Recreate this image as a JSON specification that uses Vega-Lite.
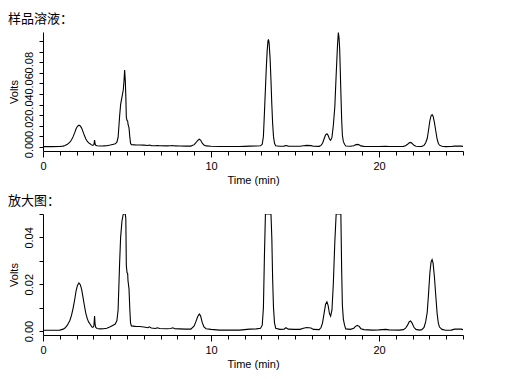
{
  "$schema": "https://vega.github.io/schema/vega-lite/v6.json",
  "background": "white",
  "padding": {"left": 8, "top": 13, "right": 5, "bottom": 5},
  "spacing": 9,
  "config": {
    "view": {"stroke": null},
    "font": "Liberation Sans",
    "axis": {
      "grid": false,
      "domainColor": "black",
      "tickColor": "black",
      "labelColor": "black",
      "titleColor": "black",
      "labelFontSize": 11,
      "titleFontSize": 11,
      "titleFontWeight": "normal",
      "labelFont": "Liberation Sans",
      "titleFont": "Liberation Sans",
      "domainWidth": 1,
      "tickWidth": 1
    },
    "title": {
      "font": "Noto Sans CJK SC",
      "fontSize": 13,
      "fontWeight": "normal",
      "color": "black",
      "anchor": "start",
      "offset": 6
    }
  },
  "datasets": {
    "chrom": [
      {"t": 0, "v": 0.0003}, {"t": 0.5, "v": 0.0003}, {"t": 1.0, "v": 0.0004}, {"t": 1.2, "v": 0.0008},
      {"t": 1.31, "v": 0.0013}, {"t": 1.45, "v": 0.0025}, {"t": 1.6, "v": 0.0045}, {"t": 1.7, "v": 0.0068},
      {"t": 1.8, "v": 0.0100}, {"t": 1.9, "v": 0.0140}, {"t": 1.97, "v": 0.0172}, {"t": 2.05, "v": 0.0195},
      {"t": 2.14, "v": 0.0205}, {"t": 2.22, "v": 0.0198}, {"t": 2.30, "v": 0.0178}, {"t": 2.38, "v": 0.0145},
      {"t": 2.46, "v": 0.0110}, {"t": 2.55, "v": 0.0075}, {"t": 2.64, "v": 0.0052}, {"t": 2.72, "v": 0.0038},
      {"t": 2.80, "v": 0.0030}, {"t": 2.87, "v": 0.0022}, {"t": 2.93, "v": 0.0016}, {"t": 2.98, "v": 0.0016},
      {"t": 3.03, "v": 0.0022}, {"t": 3.07, "v": 0.0064}, {"t": 3.10, "v": 0.0030}, {"t": 3.14, "v": 0.0015},
      {"t": 3.22, "v": 0.0011}, {"t": 3.4, "v": 0.0009}, {"t": 3.6, "v": 0.0010}, {"t": 3.8, "v": 0.0012},
      {"t": 4.0, "v": 0.0018}, {"t": 4.15, "v": 0.0024}, {"t": 4.3, "v": 0.0030}, {"t": 4.4, "v": 0.0045},
      {"t": 4.47, "v": 0.0090}, {"t": 4.52, "v": 0.0200}, {"t": 4.56, "v": 0.0290}, {"t": 4.62, "v": 0.0400},
      {"t": 4.70, "v": 0.0470}, {"t": 4.78, "v": 0.0540}, {"t": 4.82, "v": 0.0620}, {"t": 4.86, "v": 0.0726},
      {"t": 4.90, "v": 0.0620}, {"t": 4.93, "v": 0.0480}, {"t": 4.96, "v": 0.0280}, {"t": 5.00, "v": 0.0250},
      {"t": 5.04, "v": 0.0245}, {"t": 5.06, "v": 0.0215}, {"t": 5.12, "v": 0.0180}, {"t": 5.17, "v": 0.0090},
      {"t": 5.21, "v": 0.0035}, {"t": 5.26, "v": 0.0022}, {"t": 5.5, "v": 0.0020}, {"t": 5.76, "v": 0.0019},
      {"t": 6.0, "v": 0.0017}, {"t": 6.25, "v": 0.0014}, {"t": 6.33, "v": 0.0018}, {"t": 6.45, "v": 0.0013},
      {"t": 6.7, "v": 0.0011}, {"t": 6.8, "v": 0.0014}, {"t": 6.95, "v": 0.0011}, {"t": 7.34, "v": 0.0010},
      {"t": 7.6, "v": 0.0011}, {"t": 7.73, "v": 0.0014}, {"t": 7.85, "v": 0.0010}, {"t": 8.13, "v": 0.0009},
      {"t": 8.5, "v": 0.0008}, {"t": 8.8, "v": 0.0008}, {"t": 9.0, "v": 0.0022}, {"t": 9.1, "v": 0.0040},
      {"t": 9.2, "v": 0.0060}, {"t": 9.3, "v": 0.0073}, {"t": 9.38, "v": 0.0065}, {"t": 9.48, "v": 0.0036},
      {"t": 9.58, "v": 0.0018}, {"t": 9.71, "v": 0.0010}, {"t": 10.0, "v": 0.0007}, {"t": 10.5, "v": 0.0004},
      {"t": 11.0, "v": 0.0004}, {"t": 11.7, "v": 0.0004}, {"t": 12.0, "v": 0.0006}, {"t": 12.3, "v": 0.0008},
      {"t": 12.7, "v": 0.0009}, {"t": 12.95, "v": 0.0012}, {"t": 13.05, "v": 0.0025}, {"t": 13.12, "v": 0.0100},
      {"t": 13.18, "v": 0.0320}, {"t": 13.24, "v": 0.0550}, {"t": 13.29, "v": 0.0740}, {"t": 13.34, "v": 0.0900},
      {"t": 13.39, "v": 0.1000}, {"t": 13.42, "v": 0.1016}, {"t": 13.46, "v": 0.0980}, {"t": 13.52, "v": 0.0830},
      {"t": 13.57, "v": 0.0630}, {"t": 13.62, "v": 0.0400}, {"t": 13.67, "v": 0.0220}, {"t": 13.72, "v": 0.0100},
      {"t": 13.78, "v": 0.0035}, {"t": 13.85, "v": 0.0012}, {"t": 14.1, "v": 0.0007}, {"t": 14.35, "v": 0.0008},
      {"t": 14.46, "v": 0.0014}, {"t": 14.6, "v": 0.0008}, {"t": 14.95, "v": 0.0007}, {"t": 15.3, "v": 0.0007},
      {"t": 15.5, "v": 0.0012}, {"t": 15.7, "v": 0.0015}, {"t": 15.95, "v": 0.0013}, {"t": 16.1, "v": 0.0007},
      {"t": 16.44, "v": 0.0006}, {"t": 16.55, "v": 0.0015}, {"t": 16.64, "v": 0.0035}, {"t": 16.74, "v": 0.0080},
      {"t": 16.82, "v": 0.0115}, {"t": 16.9, "v": 0.0125}, {"t": 16.97, "v": 0.0110}, {"t": 17.05, "v": 0.0075},
      {"t": 17.12, "v": 0.0063}, {"t": 17.2, "v": 0.0090}, {"t": 17.28, "v": 0.0200}, {"t": 17.37, "v": 0.0380},
      {"t": 17.45, "v": 0.0680}, {"t": 17.53, "v": 0.0960}, {"t": 17.58, "v": 0.1080}, {"t": 17.62, "v": 0.1030},
      {"t": 17.66, "v": 0.0920}, {"t": 17.73, "v": 0.0520}, {"t": 17.78, "v": 0.0250}, {"t": 17.82, "v": 0.0110},
      {"t": 17.88, "v": 0.0050}, {"t": 17.95, "v": 0.0025}, {"t": 18.02, "v": 0.0009}, {"t": 18.3, "v": 0.0007},
      {"t": 18.5, "v": 0.0012}, {"t": 18.6, "v": 0.0020}, {"t": 18.71, "v": 0.0024}, {"t": 18.82, "v": 0.0020},
      {"t": 18.92, "v": 0.0010}, {"t": 19.1, "v": 0.0006}, {"t": 19.6, "v": 0.0004}, {"t": 20.0, "v": 0.0005},
      {"t": 20.4, "v": 0.0007}, {"t": 20.6, "v": 0.0005}, {"t": 21.2, "v": 0.0004}, {"t": 21.45, "v": 0.0006},
      {"t": 21.58, "v": 0.0012}, {"t": 21.7, "v": 0.0025}, {"t": 21.8, "v": 0.0040}, {"t": 21.88, "v": 0.0043},
      {"t": 21.96, "v": 0.0035}, {"t": 22.08, "v": 0.0016}, {"t": 22.2, "v": 0.0007}, {"t": 22.4, "v": 0.0004},
      {"t": 22.55, "v": 0.0006}, {"t": 22.68, "v": 0.0015}, {"t": 22.78, "v": 0.0040}, {"t": 22.87, "v": 0.0080},
      {"t": 22.95, "v": 0.0160}, {"t": 23.03, "v": 0.0250}, {"t": 23.1, "v": 0.0295}, {"t": 23.16, "v": 0.0305},
      {"t": 23.22, "v": 0.0290}, {"t": 23.3, "v": 0.0230}, {"t": 23.37, "v": 0.0160}, {"t": 23.46, "v": 0.0075},
      {"t": 23.53, "v": 0.0035}, {"t": 23.6, "v": 0.0017}, {"t": 23.75, "v": 0.0007}, {"t": 23.96, "v": 0.0003},
      {"t": 24.3, "v": 0.0004}, {"t": 24.5, "v": 0.0008}, {"t": 24.9, "v": 0.0008}, {"t": 25.0, "v": 0.0006}
    ]
  },
  "vconcat": [
    {
      "width": 420,
      "height": 119,
      "title": {"text": "样品溶液："},
      "data": {"name": "chrom"},
      "mark": {"type": "line", "color": "black", "strokeWidth": 1.1, "clip": true},
      "encoding": {
        "x": {
          "field": "t", "type": "quantitative",
          "scale": {"domain": [0, 25], "nice": false},
          "axis": {
            "title": "Time (min)",
            "values": [0,1,2,3,4,5,6,7,8,9,10,11,12,13,14,15,16,17,18,19,20,21,22,23,24,25],
            "labelExpr": "datum.value % 10 == 0 ? datum.label : ''",
            "tickSize": {"condition": {"test": "datum.value % 10 == 0", "value": 6}, "value": 4},
            "labelPadding": 3, "titlePadding": 3, "labelFlush": false, "labelOverlap": false
          }
        },
        "y": {
          "field": "v", "type": "quantitative",
          "scale": {"domain": [-0.0038, 0.1085], "nice": false, "zero": false},
          "axis": {
            "title": "Volts",
            "values": [0,0.01,0.02,0.03,0.04,0.05,0.06,0.07,0.08,0.09,0.1],
            "format": ".2f",
            "labelExpr": "(round(datum.value*100) % 2 == 0 && datum.value < 0.09) ? datum.label : ''",
            "labelAngle": -90, "labelOverlap": false, "labelBound": false, "labelFlush": false,
            "tickSize": 4, "labelPadding": 5, "titlePadding": 4
          }
        }
      }
    },
    {
      "width": 420,
      "height": 121,
      "title": {"text": "放大图："},
      "data": {"name": "chrom"},
      "mark": {"type": "line", "color": "black", "strokeWidth": 1.1, "clip": true},
      "encoding": {
        "x": {
          "field": "t", "type": "quantitative",
          "scale": {"domain": [0, 25], "nice": false},
          "axis": {
            "title": "Time (min)",
            "values": [0,1,2,3,4,5,6,7,8,9,10,11,12,13,14,15,16,17,18,19,20,21,22,23,24,25],
            "labelExpr": "datum.value % 10 == 0 ? datum.label : ''",
            "tickSize": {"condition": {"test": "datum.value % 10 == 0", "value": 6}, "value": 4},
            "labelPadding": 3, "titlePadding": 3, "labelFlush": false, "labelOverlap": false
          }
        },
        "y": {
          "field": "v", "type": "quantitative",
          "scale": {"domain": [-0.0017, 0.05], "nice": false, "zero": false, "clamp": true},
          "axis": {
            "title": "Volts",
            "values": [0,0.01,0.02,0.03,0.04,0.05],
            "format": ".2f",
            "labelExpr": "round(datum.value*100) % 2 == 0 ? datum.label : ''",
            "labelAngle": -90, "labelOverlap": false, "labelBound": false, "labelFlush": false,
            "tickSize": 4, "labelPadding": 5, "titlePadding": 4
          }
        }
      }
    }
  ]
}
